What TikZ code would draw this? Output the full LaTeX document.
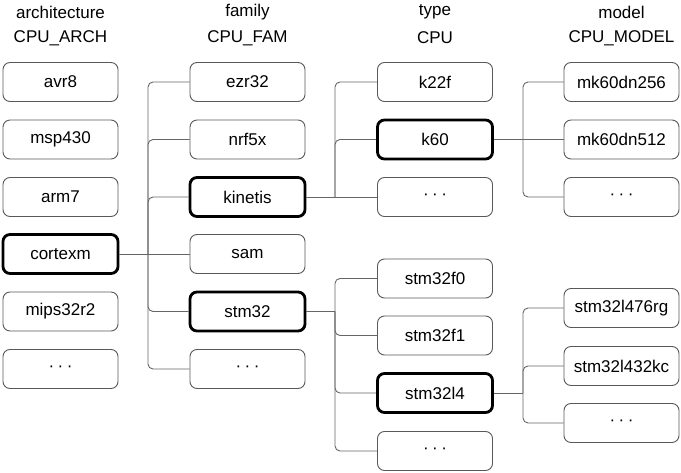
\documentclass[tikz,border=0pt]{standalone}
\usepackage{fontspec}
\setmainfont{Liberation Sans}
\newcommand{\mydots}{·\hspace{3.5pt}·\hspace{3.5pt}·}
\begin{document}
\begin{tikzpicture}[x=1pt,y=-1pt,
  box/.style={draw=black!65,line width=0.9pt,rounded corners=7pt,minimum width=115pt,minimum height=39pt,inner sep=0pt,font=\fontsize{17}{20}\selectfont},
  sel/.style={box,draw=black,line width=2.8pt},
  head/.style={font=\fontsize{17}{20}\selectfont,inner sep=0pt},
  conn/.style={draw=black!60,line width=0.9pt,rounded corners=5pt}]
\useasboundingbox (0,0) rectangle (681,473);
% headers
\node[head] (h1a) at (60.5,12) {architecture};
\node[head] (h1b) at (60.5,38) {CPU\_ARCH};
\node[head] (h2a) at (247.5,12) {family};
\node[head] (h2b) at (247.5,38) {CPU\_FAM};
\node[head] (h3a) at (435,12) {type};
\node[head] (h3b) at (435,38) {CPU};
\node[head] (h4a) at (621.5,12) {model};
\node[head] (h4b) at (621.5,38) {CPU\_MODEL};
% column 1
\node[box] (avr8) at (60.5,82) {avr8};
\node[box] (msp430) at (60.5,139.5) {msp430};
\node[box] (arm7) at (60.5,197) {arm7};
\node[sel] (cortexm) at (60.5,254) {cortexm};
\node[box] (mips) at (60.5,311.5) {mips32r2};
\node[box] (d1) at (60.5,369) {\mydots};
% column 2
\node[box] (ezr32) at (247.5,82) {ezr32};
\node[box] (nrf5x) at (247.5,139.5) {nrf5x};
\node[sel] (kinetis) at (247.5,197) {kinetis};
\node[box] (sam) at (247.5,254) {sam};
\node[sel] (stm32) at (247.5,311.5) {stm32};
\node[box] (d2) at (247.5,369) {\mydots};
% column 3
\node[box] (k22f) at (435,82) {k22f};
\node[sel] (k60) at (435,139.5) {k60};
\node[box] (d3a) at (435,197) {\mydots};
\node[box] (f0) at (435,278.5) {stm32f0};
\node[box] (f1) at (435,335.5) {stm32f1};
\node[sel] (l4) at (435,393) {stm32l4};
\node[box] (d3b) at (435,451) {\mydots};
% column 4
\node[box] (m256) at (621.5,82) {mk60dn256};
\node[box] (m512) at (621.5,139.5) {mk60dn512};
\node[box] (d4a) at (621.5,197) {\mydots};
\node[box] (l476) at (621.5,308) {stm32l476rg};
\node[box] (l432) at (621.5,366) {stm32l432kc};
\node[box] (d4b) at (621.5,423) {\mydots};
% junctions
\coordinate (j1) at (148,254);
\coordinate (j2) at (335,197);
\coordinate (j3) at (335,311.5);
\coordinate (j4) at (523,139.5);
\coordinate (j5) at (523,393);
% connectors
\draw[conn] (cortexm.east) -- (j1);
\draw[conn] (j1) |- (ezr32.west);
\draw[conn] (j1) |- (nrf5x.west);
\draw[conn] (j1) |- (kinetis.west);
\draw[conn] (j1) -- (sam.west);
\draw[conn] (j1) |- (stm32.west);
\draw[conn] (j1) |- (d2.west);
\draw[conn] (kinetis.east) -- (j2);
\draw[conn] (j2) |- (k22f.west);
\draw[conn] (j2) |- (k60.west);
\draw[conn] (j2) -- (d3a.west);
\draw[conn] (stm32.east) -- (j3);
\draw[conn] (j3) |- (f0.west);
\draw[conn] (j3) |- (f1.west);
\draw[conn] (j3) |- (l4.west);
\draw[conn] (j3) |- (d3b.west);
\draw[conn] (k60.east) -- (j4);
\draw[conn] (j4) |- (m256.west);
\draw[conn] (j4) -- (m512.west);
\draw[conn] (j4) |- (d4a.west);
\draw[conn] (l4.east) -- (j5);
\draw[conn] (j5) |- (l476.west);
\draw[conn] (j5) |- (l432.west);
\draw[conn] (j5) |- (d4b.west);
\end{tikzpicture}
\end{document}
